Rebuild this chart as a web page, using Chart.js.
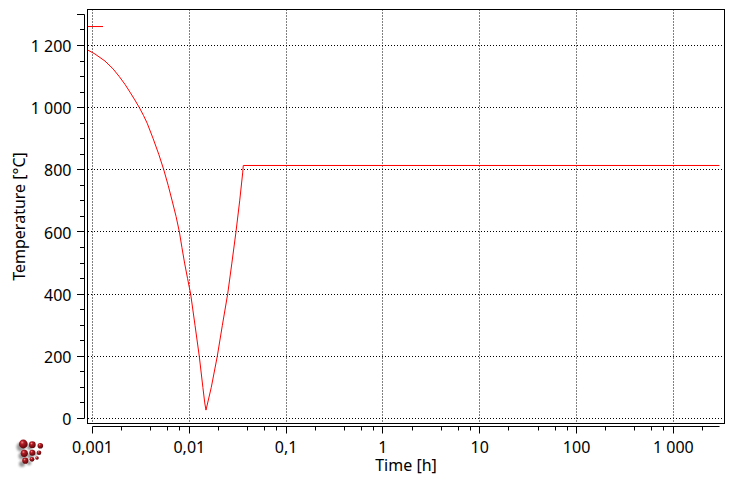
<!DOCTYPE html>
<html>
<head>
<meta charset="utf-8">
<style>
html,body{margin:0;padding:0;background:#fff;overflow:hidden}
#wrap{position:relative;width:734px;height:483px}
canvas{display:block}
#logo{position:absolute;left:10px;top:430px}
</style>
<script src="https://cdn.jsdelivr.net/npm/chart.js@4"></script>
</head>
<body>
<div id="wrap">
<canvas id="c" width="734" height="483"></canvas>
<svg id="logo" width="40" height="40" viewBox="0 0 40 40">
  <defs>
    <radialGradient id="b" cx="38%" cy="32%" r="70%">
      <stop offset="0" stop-color="#e88"/><stop offset=".3" stop-color="#b01c24"/><stop offset="1" stop-color="#5a0508"/>
    </radialGradient>
    <filter id="s" x="-60%" y="-60%" width="220%" height="220%"><feGaussianBlur stdDeviation="1.1"/></filter>
  </defs>
  <g fill="#777" filter="url(#s)" opacity=".75">
    <circle cx="11" cy="17" r="4.5"/><circle cx="20" cy="17" r="3"/><circle cx="12" cy="26" r="3.5"/>
    <circle cx="20" cy="26" r="3"/><circle cx="12" cy="34" r="3"/><circle cx="19" cy="33" r="2.3"/><circle cx="25" cy="24" r="2"/>
  </g>
  <g fill="url(#b)">
    <circle cx="13.3" cy="14" r="4.4"/><circle cx="22.3" cy="14.7" r="3.4"/><circle cx="30.3" cy="15.7" r="2.8"/>
    <circle cx="14.3" cy="23.3" r="3.6"/><circle cx="22.3" cy="22.7" r="3"/><circle cx="29" cy="22.7" r="2.3"/>
    <circle cx="15.3" cy="30.7" r="3.1"/><circle cx="22" cy="29.3" r="2.4"/><circle cx="27" cy="28" r="1.8"/>
  </g>
</svg>
</div>
<script>
const startTimes = [0.000892, 0.001284];
const startTemps = [1261, 1261];
const coolTimes = [0.000892,0.00106,0.001346,0.001628,0.001891,0.002166,0.002439,0.002734,0.00305,0.003363,0.003672,0.004235,0.004838,0.00545,0.00605,0.006655,0.0073,0.0079,0.00839,0.00894,0.0096,0.01033,0.01145,0.01268,0.01381,0.01444,0.01487,0.01686,0.01945,0.02195,0.0249,0.02752,0.03033,0.03313,0.03559,0.0361,2987];
const coolTemps = [1185.5,1172.7,1150,1125,1100,1075,1050,1025,1000,975,950,900,850,800,750,700,650,600,550,500,450,400,300,200,100,50,27,100,200,300,400,500,600,700,790,814,814];
const xTickValues = [0.001,0.01,0.1,1,10,100,1000];
const xTickLabels = ['0,001','0,01','0,1','1','10','100','1 000'];
const xMinorValues = [0.002,0.004,0.006,0.008,0.02,0.04,0.06,0.08,0.2,0.4,0.6,0.8,2,4,6,8,20,40,60,80,200,400,600,800,2000];
const yTickValues = [0,200,400,600,800,1000,1200];
const yTickLabels = ['0','200','400','600','800','1 000','1 200'];
const yMinorValues = [50,100,150,250,300,350,450,500,550,650,700,750,850,900,950,1050,1100,1150,1250];
const xTitle = 'Time [h]';
const yTitle = 'Temperature [°C]';
const xAxisEnd = 2987;
const yAxisTop = 1300;

const FONT = '"Noto Sans"';
const canvas = document.getElementById('c');
canvas.getContext('2d', {alpha:false});

const decor = {
  id:'decor',
  beforeDraw(ch){
    const g = ch.ctx; g.save(); g.fillStyle='#fff'; g.fillRect(0,0,ch.width,ch.height); g.restore();
  },
  afterDraw(ch){
    const g = ch.ctx, a = ch.chartArea, xs = ch.scales.x, ys = ch.scales.y;
    const snap = v => Math.floor(v)+0.5;
    g.save();
    g.strokeStyle='#000'; g.lineWidth=1; g.setLineDash([]);
    g.strokeRect(snap(a.left),snap(a.top),Math.round(a.right-a.left),Math.round(a.bottom-a.top));
    const line=(x1,y1,x2,y2)=>{g.beginPath();g.moveTo(x1,y1);g.lineTo(x2,y2);g.stroke();};
    // x axis, detached below the frame
    const ax = 426.5;
    line(snap(xs.getPixelForValue(xTickValues[0])),ax,snap(xs.getPixelForValue(xAxisEnd)),ax);
    xTickValues.forEach(v=>{const p=snap(xs.getPixelForValue(v));line(p,ax,p,433.5);});
    xMinorValues.forEach(v=>{const p=snap(xs.getPixelForValue(v));line(p,ax,p,430.5);});
    // y axis, detached left of the frame
    const ay = 84.5;
    line(ay,snap(ys.getPixelForValue(yAxisTop)),ay,snap(ys.getPixelForValue(0)));
    yTickValues.concat([yAxisTop]).forEach(v=>{const p=snap(ys.getPixelForValue(v));line(77,p,ay,p);});
    yMinorValues.forEach(v=>{const p=snap(ys.getPixelForValue(v));line(80,p,ay,p);});
    g.restore();
  }
};

const grid = {color:'#000',lineWidth:1,drawTicks:false,tickLength:0};
const border = {display:false,dash:[1,2]};

new Chart(canvas,{
  type:'scatter',
  data:{datasets:[
    {data:startTimes.map((t,i)=>({x:t,y:startTemps[i]})),showLine:true,borderColor:'#ff0000',borderWidth:1,pointRadius:0,tension:0},
    {data:coolTimes.map((t,i)=>({x:t,y:coolTemps[i]})),showLine:true,borderColor:'#ff0000',borderWidth:1,pointRadius:0,tension:0}
  ]},
  options:{
    responsive:false,animation:false,devicePixelRatio:1,
    layout:{padding:{left:0,top:9.5,right:9.5,bottom:0}},
    plugins:{legend:{display:false},tooltip:{enabled:false},title:{display:false}},
    scales:{
      x:{
        type:'logarithmic',min:0.000888,max:3373,
        grid:grid,border:border,
        afterBuildTicks(s){s.ticks=xTickValues.map(v=>({value:v}));},
        afterFit(s){s.height=59.5;s.paddingLeft=0;s.paddingRight=0;},
        ticks:{autoSkip:false,maxRotation:0,minRotation:0,padding:15,color:'#000',font:{family:FONT,size:16},
          callback(v){const i=xTickValues.indexOf(v);return i<0?'':xTickLabels[i];}},
        title:{display:true,text:xTitle,color:'#000',font:{family:FONT,size:16},padding:{top:0,bottom:7}}
      },
      y:{
        type:'linear',min:-16.1,max:1315.8,
        grid:grid,border:border,
        afterBuildTicks(s){s.ticks=yTickValues.map(v=>({value:v}));},
        afterFit(s){s.width=87.5;s.paddingTop=0;s.paddingBottom=0;},
        afterUpdate(s){
          const draw = s.drawLabels;
          s.drawLabels = function(a){ s.ctx.save(); s.ctx.translate(0,1); draw.call(s,a); s.ctx.restore(); };
        },
        ticks:{autoSkip:false,padding:16,color:'#000',font:{family:FONT,size:16},
          callback(v){const i=yTickValues.indexOf(v);return i<0?'':yTickLabels[i];}},
        title:{display:true,text:yTitle,color:'#000',font:{family:FONT,size:16},padding:{top:11,bottom:0}}
      }
    }
  },
  plugins:[decor]
});
</script>
</body>
</html>
